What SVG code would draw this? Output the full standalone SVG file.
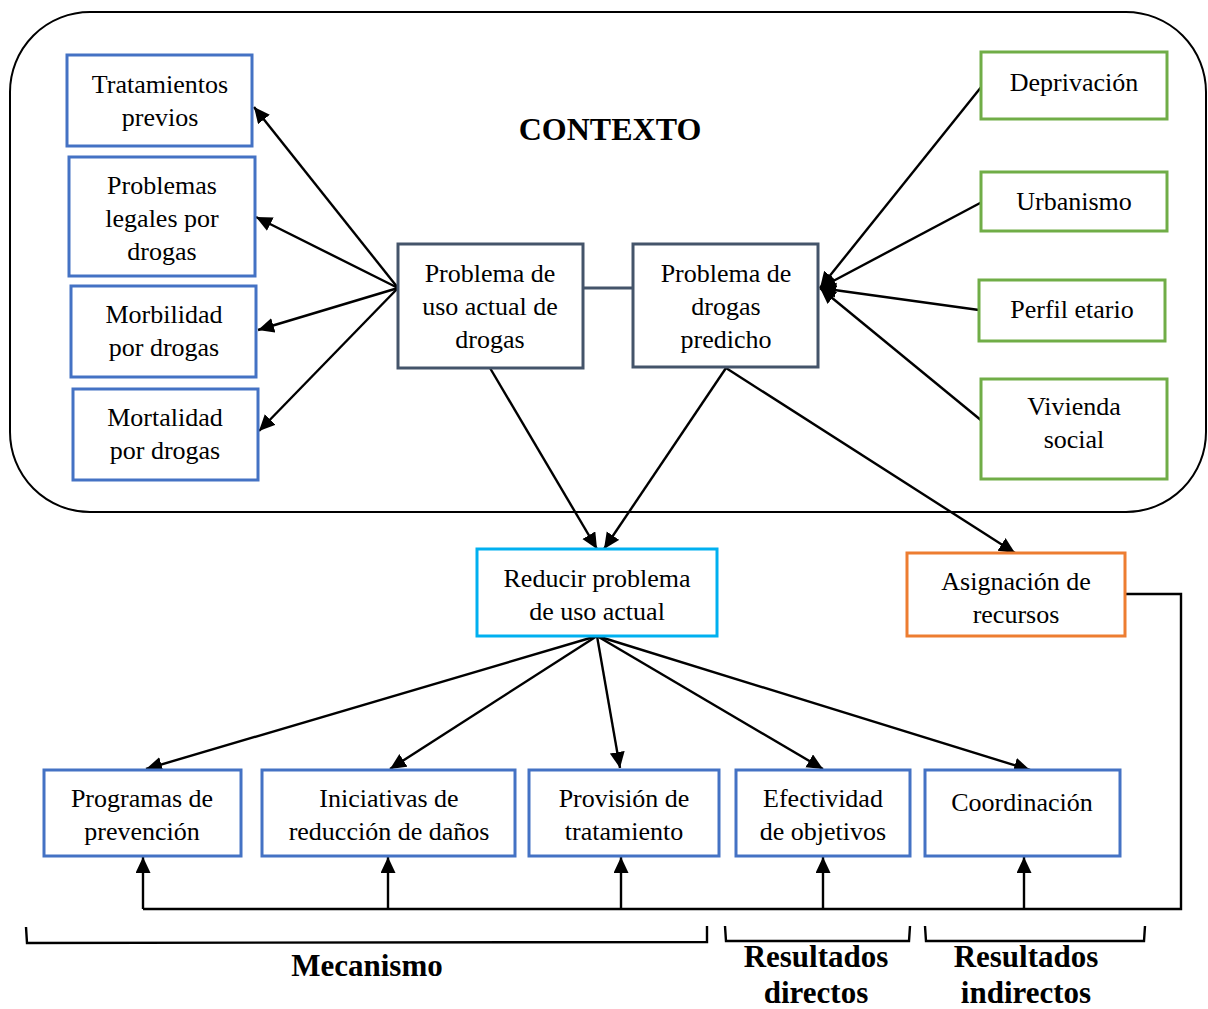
<svg xmlns="http://www.w3.org/2000/svg" width="1208" height="1009" viewBox="0 0 1208 1009">
  <style>
    text { font-family: 'Liberation Serif', 'Tinos', 'Times New Roman', 'DejaVu Serif', serif; fill: #000; text-anchor: middle; }
    .t { font-size: 26px; }
    .b { font-size: 31px; font-weight: bold; }
    .box { fill: #fff; stroke-width: 3; }
    .blue { stroke: #4472C4; }
    .slate { stroke: #44546A; }
    .green { stroke: #70AD47; }
    .cyan { stroke: #00B0F0; }
    .orange { stroke: #ED7D31; }
    .ln { fill: none; stroke: #000; stroke-width: 2.4; }
  </style>
  <defs>
    <marker id="arrow" markerUnits="userSpaceOnUse" markerWidth="18" markerHeight="16" refX="16" refY="7.5" orient="auto">
      <path d="M0,0 L16,7.5 L0,15 z" fill="#000"/>
    </marker>
  </defs>

  <rect width="1208" height="1009" fill="#fff"/>

  <!-- context frame -->
  <rect x="10" y="12" width="1196" height="500" rx="80" ry="80" fill="none" stroke="#000" stroke-width="2"/>
  <text class="b" x="610" y="140" style="font-size:32px">CONTEXTO</text>

  <!-- connectors -->
  <g id="connectors">
    <line x1="583" y1="288" x2="633" y2="288" stroke="#44546A" stroke-width="3"/>
    <line class="ln" x1="398" y1="288" x2="254" y2="107" marker-end="url(#arrow)"/>
    <line class="ln" x1="398" y1="288" x2="256" y2="217" marker-end="url(#arrow)"/>
    <line class="ln" x1="398" y1="288" x2="258" y2="330" marker-end="url(#arrow)"/>
    <line class="ln" x1="398" y1="288" x2="259" y2="431" marker-end="url(#arrow)"/>
    <line class="ln" x1="982" y1="86" x2="820" y2="288" marker-end="url(#arrow)"/>
    <line class="ln" x1="982" y1="202" x2="820" y2="288" marker-end="url(#arrow)"/>
    <line class="ln" x1="979" y1="310" x2="820" y2="288" marker-end="url(#arrow)"/>
    <line class="ln" x1="982" y1="421" x2="820" y2="288" marker-end="url(#arrow)"/>
    <line class="ln" x1="490" y1="368" x2="597" y2="549" marker-end="url(#arrow)"/>
    <line class="ln" x1="726" y1="368" x2="604" y2="549" marker-end="url(#arrow)"/>
    <line class="ln" x1="726" y1="368" x2="1015" y2="553" marker-end="url(#arrow)"/>
    <line class="ln" x1="597" y1="636" x2="146" y2="769" marker-end="url(#arrow)"/>
    <line class="ln" x1="597" y1="636" x2="390" y2="769" marker-end="url(#arrow)"/>
    <line class="ln" x1="597" y1="636" x2="620" y2="768" marker-end="url(#arrow)"/>
    <line class="ln" x1="597" y1="636" x2="823" y2="769" marker-end="url(#arrow)"/>
    <line class="ln" x1="597" y1="636" x2="1030" y2="770" marker-end="url(#arrow)"/>
    <polyline class="ln" points="1125,594 1181,594 1181,909 143,909"/>
    <line class="ln" x1="143" y1="909" x2="143" y2="857" marker-end="url(#arrow)"/>
    <line class="ln" x1="388" y1="909" x2="388" y2="857" marker-end="url(#arrow)"/>
    <line class="ln" x1="621" y1="909" x2="621" y2="857" marker-end="url(#arrow)"/>
    <line class="ln" x1="823" y1="909" x2="823" y2="857" marker-end="url(#arrow)"/>
    <line class="ln" x1="1024" y1="909" x2="1024" y2="857" marker-end="url(#arrow)"/>
  </g>

  <!-- left outcome nodes -->
  <g id="tratamientos">
    <rect class="box blue" x="67" y="55" width="185" height="91"/>
    <text class="t" x="160" y="93">Tratamientos</text>
    <text class="t" x="160" y="126">previos</text>
  </g>
  <g id="legales">
    <rect class="box blue" x="69" y="157" width="186" height="119"/>
    <text class="t" x="162" y="194">Problemas</text>
    <text class="t" x="162" y="227">legales por</text>
    <text class="t" x="162" y="260">drogas</text>
  </g>
  <g id="morbilidad">
    <rect class="box blue" x="71" y="286" width="185" height="91"/>
    <text class="t" x="164" y="323">Morbilidad</text>
    <text class="t" x="164" y="356">por drogas</text>
  </g>
  <g id="mortalidad">
    <rect class="box blue" x="73" y="389" width="185" height="91"/>
    <text class="t" x="165" y="426">Mortalidad</text>
    <text class="t" x="165" y="459">por drogas</text>
  </g>

  <!-- central problem nodes -->
  <g id="uso-actual">
    <rect class="box slate" x="398" y="244" width="185" height="124"/>
    <text class="t" x="490" y="282">Problema de</text>
    <text class="t" x="490" y="315">uso actual de</text>
    <text class="t" x="490" y="348">drogas</text>
  </g>
  <g id="predicho">
    <rect class="box slate" x="633" y="244" width="185" height="123"/>
    <text class="t" x="726" y="282">Problema de</text>
    <text class="t" x="726" y="315">drogas</text>
    <text class="t" x="726" y="348">predicho</text>
  </g>

  <!-- contextual factors -->
  <g id="deprivacion">
    <rect class="box green" x="981" y="52" width="186" height="67"/>
    <text class="t" x="1074" y="91">Deprivación</text>
  </g>
  <g id="urbanismo">
    <rect class="box green" x="981" y="172" width="186" height="59"/>
    <text class="t" x="1074" y="210">Urbanismo</text>
  </g>
  <g id="perfil">
    <rect class="box green" x="979" y="280" width="186" height="61"/>
    <text class="t" x="1072" y="318">Perfil etario</text>
  </g>
  <g id="vivienda">
    <rect class="box green" x="981" y="379" width="186" height="100"/>
    <text class="t" x="1074" y="415">Vivienda</text>
    <text class="t" x="1074" y="448">social</text>
  </g>

  <!-- responses -->
  <g id="reducir">
    <rect class="box cyan" x="477" y="549" width="240" height="87"/>
    <text class="t" x="597" y="587">Reducir problema</text>
    <text class="t" x="597" y="620">de uso actual</text>
  </g>
  <g id="asignacion">
    <rect class="box orange" x="907" y="553" width="218" height="83"/>
    <text class="t" x="1016" y="590">Asignación de</text>
    <text class="t" x="1016" y="623">recursos</text>
  </g>

  <!-- mechanisms and outcomes -->
  <g id="prevencion">
    <rect class="box blue" x="44" y="770" width="197" height="86"/>
    <text class="t" x="142" y="807">Programas de</text>
    <text class="t" x="142" y="840">prevención</text>
  </g>
  <g id="iniciativas">
    <rect class="box blue" x="262" y="770" width="253" height="86"/>
    <text class="t" x="389" y="807">Iniciativas de</text>
    <text class="t" x="389" y="840">reducción de daños</text>
  </g>
  <g id="provision">
    <rect class="box blue" x="529" y="770" width="190" height="86"/>
    <text class="t" x="624" y="807">Provisión de</text>
    <text class="t" x="624" y="840">tratamiento</text>
  </g>
  <g id="efectividad">
    <rect class="box blue" x="736" y="770" width="174" height="86"/>
    <text class="t" x="823" y="807">Efectividad</text>
    <text class="t" x="823" y="840">de objetivos</text>
  </g>
  <g id="coordinacion">
    <rect class="box blue" x="925" y="770" width="195" height="86"/>
    <text class="t" x="1022" y="811">Coordinación</text>
  </g>

  <!-- category brackets -->
  <g id="brackets">
    <polyline class="ln" points="26,927 27,943 707,942 707,926"/>
    <polyline class="ln" points="725,926 726,941 909,941 910,926"/>
    <polyline class="ln" points="925,926 926,941 1144,941 1145,926"/>
    <text class="b" x="367" y="976">Mecanismo</text>
    <text class="b" x="816" y="967">Resultados</text>
    <text class="b" x="816" y="1003">directos</text>
    <text class="b" x="1026" y="967">Resultados</text>
    <text class="b" x="1026" y="1003">indirectos</text>
  </g>
</svg>
